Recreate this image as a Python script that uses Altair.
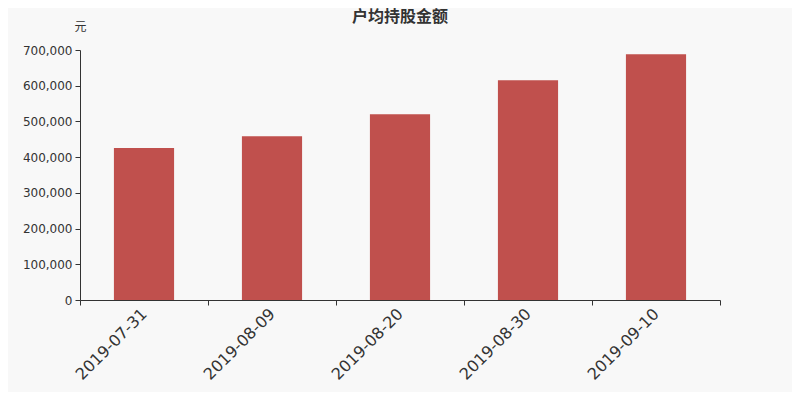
import altair as alt
import pandas as pd

dates = ["2019-07-31", "2019-08-09", "2019-08-20", "2019-08-30", "2019-09-10"]
values = [425600, 458300, 519900, 615100, 687900]
y_ticks = [0, 100000, 200000, 300000, 400000, 500000, 600000, 700000]

df = pd.DataFrame({"date": dates, "value": values})

chart = alt.Chart(df).mark_bar(color="#c0504d", width={"band": 0.47}).encode(
    x=alt.X("date:N", sort=dates, title=None,
            scale=alt.Scale(paddingInner=0, paddingOuter=0),
            axis=alt.Axis(labelAngle=-45, labelAlign="right", labelBaseline="middle",
                          labelFontSize=16, labelColor="#333333", labelPadding=6,
                          tickBand="extent", tickSize=5, tickColor="#333333",
                          domainColor="#333333", labelFont="DejaVu Sans")),
    y=alt.Y("value:Q", title="元",
            scale=alt.Scale(domain=[0, 700000], nice=False),
            axis=alt.Axis(values=y_ticks, format=",.0f", grid=False,
                          labelFontSize=12, labelColor="#333333", labelFont="DejaVu Sans",
                          tickSize=5, tickColor="#333333", domainColor="#333333",
                          labelPadding=3,
                          titleAngle=0, titleX=0, titleY=-17, titleAlign="center",
                          titleBaseline="bottom", titleFontSize=12, titleFontWeight="normal",
                          titleColor="#333333", titleFont="Noto Sans CJK SC")),
).properties(
    width=640, height=250,
    title=alt.TitleParams("户均持股金额", fontSize=16, fontWeight="bold", color="#333333",
                          font="Noto Sans CJK SC", offset=0, dy=5, anchor="middle"),
    autosize=alt.AutoSizeParams(type="none"),
    padding={"left": 72, "top": 42, "right": 72, "bottom": 92},
    background="#f8f8f8",
).configure_view(stroke=None)

chart.save("out.html", embed_options={"renderer": "svg", "actions": False})
